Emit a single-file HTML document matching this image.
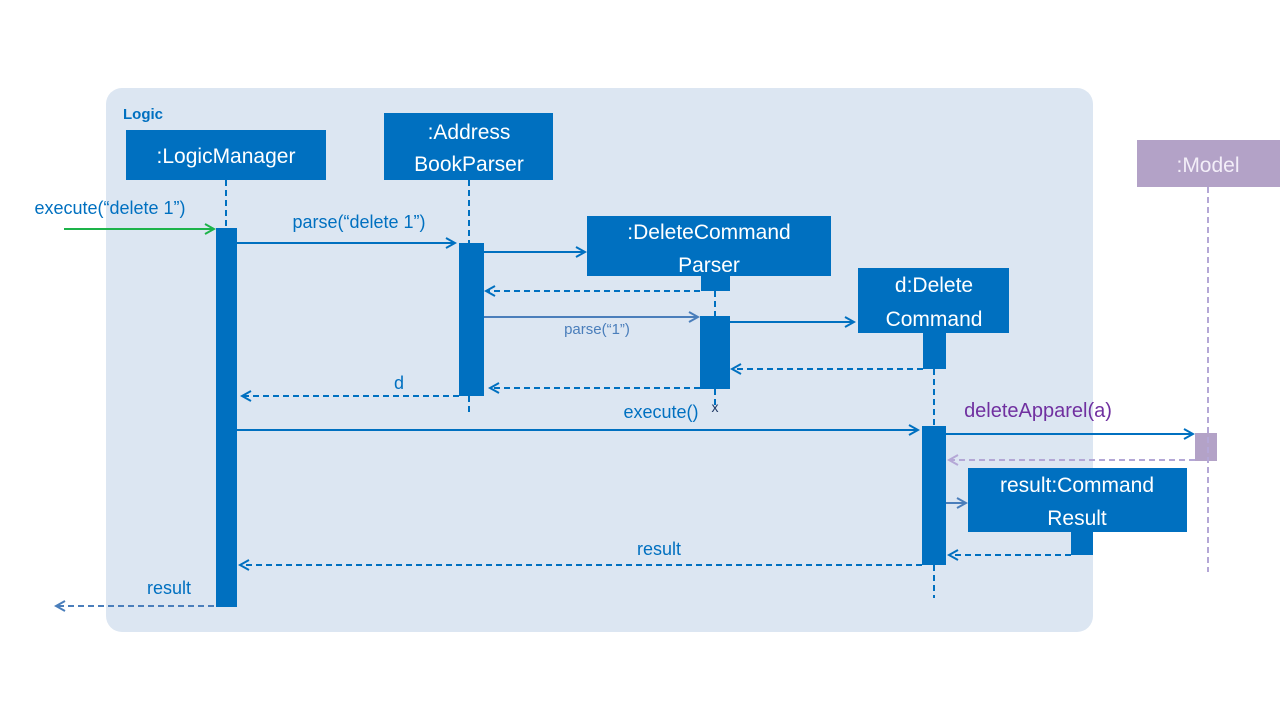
<!DOCTYPE html>
<html><head><meta charset="utf-8"><style>body{margin:0;background:#fff}svg{display:block}text{font-family:"Liberation Sans",sans-serif}</style></head>
<body>
<svg width="1280" height="720" viewBox="0 0 1280 720" xmlns="http://www.w3.org/2000/svg">
<defs>
<marker id="a" markerWidth="12" markerHeight="12" refX="10" refY="6" orient="auto" markerUnits="userSpaceOnUse"><path d="M1,1 L10,6 L1,11" fill="none" stroke="#0070c0" stroke-width="2"/></marker>
<marker id="g" markerWidth="12" markerHeight="12" refX="10" refY="6" orient="auto" markerUnits="userSpaceOnUse"><path d="M1,1 L10,6 L1,11" fill="none" stroke="#1db34a" stroke-width="2"/></marker>
<marker id="l" markerWidth="12" markerHeight="12" refX="10" refY="6" orient="auto" markerUnits="userSpaceOnUse"><path d="M1,1 L10,6 L1,11" fill="none" stroke="#4a7ebb" stroke-width="2"/></marker>
<marker id="p" markerWidth="12" markerHeight="12" refX="10" refY="6" orient="auto" markerUnits="userSpaceOnUse"><path d="M1,1 L10,6 L1,11" fill="none" stroke="#b4a7d6" stroke-width="2"/></marker>
</defs>
<rect x="106" y="88" width="987" height="544" rx="16" fill="#dce6f2"/>
<text x="123" y="119" font-size="15" font-weight="bold" fill="#0070c0">Logic</text>
<g fill="#0070c0">
<rect x="126" y="130" width="200" height="50"/>
<rect x="384" y="113" width="169" height="67"/>
<rect x="587" y="216" width="244" height="60"/>
<rect x="858" y="268" width="151" height="65"/>
<rect x="968" y="468" width="219" height="64"/>
<rect x="216" y="228" width="21" height="379"/>
<rect x="459" y="243" width="25" height="153"/>
<rect x="701" y="276" width="29" height="15"/>
<rect x="700" y="316" width="30" height="73"/>
<rect x="923" y="333" width="23" height="36"/>
<rect x="922" y="426" width="24" height="139"/>
<rect x="1071" y="532" width="22" height="23"/>
</g>
<rect x="1137" y="140" width="143" height="47" fill="#b3a2c7"/>
<rect x="1195" y="433" width="22" height="28" fill="#b3a2c7"/>
<g fill="#fff" font-size="21" text-anchor="middle">
<text x="226" y="163">:LogicManager</text>
<text x="469" y="139">:Address</text><text x="469" y="171">BookParser</text>
<text x="709" y="239">:DeleteCommand</text><text x="709" y="272">Parser</text>
<text x="934" y="292">d:Delete</text><text x="934" y="326">Command</text>
<text x="1077" y="492">result:Command</text><text x="1077" y="525">Result</text>
<text x="1208" y="172" fill="#f3eef8">:Model</text>
</g>
<g stroke="#0070c0" stroke-width="2" stroke-dasharray="6,4" fill="none">
<path d="M226,180V228M469,180V243M469,396V415M715,291V316M715,389V405M934,369V426M934,565V598"/>
</g>
<path d="M1208,187V572" stroke="#b4a7d6" stroke-width="2" stroke-dasharray="6,4"/>
<g stroke-width="2" fill="none">
<path d="M64,229H214" stroke="#1db34a" marker-end="url(#g)"/>
<path d="M237,243H455" stroke="#0070c0" marker-end="url(#a)"/>
<path d="M484,252H585" stroke="#0070c0" marker-end="url(#a)"/>
<path d="M700,291H486" stroke="#0070c0" stroke-dasharray="6,4" marker-end="url(#a)"/>
<path d="M484,317H698" stroke="#4a7ebb" marker-end="url(#l)"/>
<path d="M730,322H854" stroke="#0070c0" marker-end="url(#a)"/>
<path d="M923,369H732" stroke="#0070c0" stroke-dasharray="6,4" marker-end="url(#a)"/>
<path d="M700,388H490" stroke="#0070c0" stroke-dasharray="6,4" marker-end="url(#a)"/>
<path d="M459,396H242" stroke="#0070c0" stroke-dasharray="6,4" marker-end="url(#a)"/>
<path d="M237,430H918" stroke="#0070c0" marker-end="url(#a)"/>
<path d="M946,434H1193" stroke="#0070c0" marker-end="url(#a)"/>
<path d="M1195,460H949" stroke="#b4a7d6" stroke-dasharray="6,4" marker-end="url(#p)"/>
<path d="M946,503H966" stroke="#4a7ebb" marker-end="url(#l)"/>
<path d="M1071,555H949" stroke="#0070c0" stroke-dasharray="6,4" marker-end="url(#a)"/>
<path d="M922,565H240" stroke="#0070c0" stroke-dasharray="6,4" marker-end="url(#a)"/>
<path d="M214,606H56" stroke="#4a7ebb" stroke-dasharray="6,4" marker-end="url(#l)"/>
</g>
<g fill="#0070c0" text-anchor="middle">
<text x="110" y="214" font-size="18">execute(“delete 1”)</text>
<text x="359" y="228" font-size="18">parse(“delete 1”)</text>
<text x="597" y="334" font-size="15" fill="#4a7ebb">parse(“1”)</text>
<text x="399" y="389" font-size="18">d</text>
<text x="661" y="418" font-size="18">execute()</text>
<text x="659" y="555" font-size="18">result</text>
<text x="169" y="594" font-size="18">result</text>
<text x="1038" y="417" font-size="20" fill="#7030a0">deleteApparel(a)</text>
<text x="715" y="412" font-size="14" fill="#1f3864">x</text>
</g>
</svg>
</body></html>
